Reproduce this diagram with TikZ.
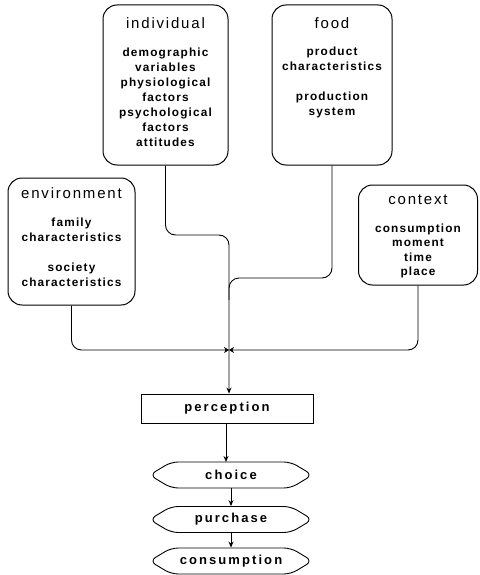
\documentclass[tikz,border=0pt]{standalone}
\usepackage{fontspec}
\setmainfont{Liberation Sans}
\newfontfamily\headfont[LetterSpace=12]{Liberation Sans}
\newfontfamily\itemfont[LetterSpace=10]{Liberation Sans}
\newfontfamily\stagefont[LetterSpace=16]{Liberation Sans}
\usetikzlibrary{arrows.meta,shapes.symbols}
\begin{document}
\begin{tikzpicture}[x=1pt,y=-1pt,
  factor/.style={draw,line width=1pt,rounded corners=14pt,inner sep=0pt},
  head/.style={inner sep=0pt,font=\headfont\fontsize{15}{18}\selectfont},
  items/.style={inner sep=0pt,align=center,font=\itemfont\bfseries\fontsize{11.8}{15}\selectfont},
  stepbox/.style={draw,line width=0.9pt,minimum width=172pt,minimum height=29pt,inner sep=0pt,
    font=\stagefont\bfseries\fontsize{13}{15}\selectfont},
  stage/.style={draw,line width=0.9pt,shape=signal,signal to=west and east,signal pointer angle=62,
    rounded corners=7pt,minimum width=163pt,minimum height=26pt,inner sep=0pt,
    font=\stagefont\bfseries\fontsize{13}{15}\selectfont},
  wire/.style={line width=0.9pt,rounded corners=10pt},
  tip/.style={-{Stealth[length=6pt,width=5pt]}},
  small tip/.style={-{Stealth[length=5pt,width=6pt]}}]
\useasboundingbox (0,0) rectangle (479,575);

% factor boxes
\node[factor,minimum width=125pt,minimum height=160pt] (ind) at (165.5,85) {};
\node[head] (indhead) at (165.5,23) {individual};
\node[items] (inditems) at (165.5,97) {demographic\\variables\\physiological\\factors\\psychological\\factors\\attitudes};

\node[factor,minimum width=120pt,minimum height=160pt] (food) at (332,85) {};
\node[head] (foodhead) at (332,23) {food};
\node[items] (fooditems) at (332,82) {product\\characteristics\\[15pt]production\\system};

\node[factor,minimum width=127pt,minimum height=127pt] (env) at (71.5,241.5) {};
\node[head] (envhead) at (71.5,193) {environment};
\node[items] (envitems) at (71.5,252) {family\\characteristics\\[15pt]society\\characteristics};

\node[factor,minimum width=119pt,minimum height=100pt] (ctx) at (418,235) {};
\node[head] (ctxhead) at (418,200) {context};
\node[items,font=\itemfont\bfseries\fontsize{11.8}{14.5}\selectfont] (ctxitems) at (418,251) {consumption\\moment\\time\\place};

% process stages
\node[stepbox] (perc) at (227,408.5) {perception};
\node[stage] (choice) at (231,475) {choice};
\node[stage] (purch) at (231,519.5) {purchase};
\node[stage] (cons) at (231,561) {consumption};

% junction points of the trunk
\coordinate (trunk) at (229,235);
\coordinate (foodbend) at (229,278);
\coordinate (tie) at (229,350);

% connectors
\draw[wire,tip] (ind.south) |- (trunk) -- (perc.north -| trunk);
\draw[wire] (food.south) |- (foodbend) -- ++(0,22);
\draw[wire,small tip] (env.south) |- (tie);
\draw[wire,small tip] (ctx.south) |- (tie);
\draw[wire,tip] (choice.north |- perc.south) ++(-5,0) -- ++(0,38.5);
\draw[wire,tip] (choice.south) -- (purch.north);
\draw[wire,tip] (purch.south) -- (cons.north);
\end{tikzpicture}
\end{document}
